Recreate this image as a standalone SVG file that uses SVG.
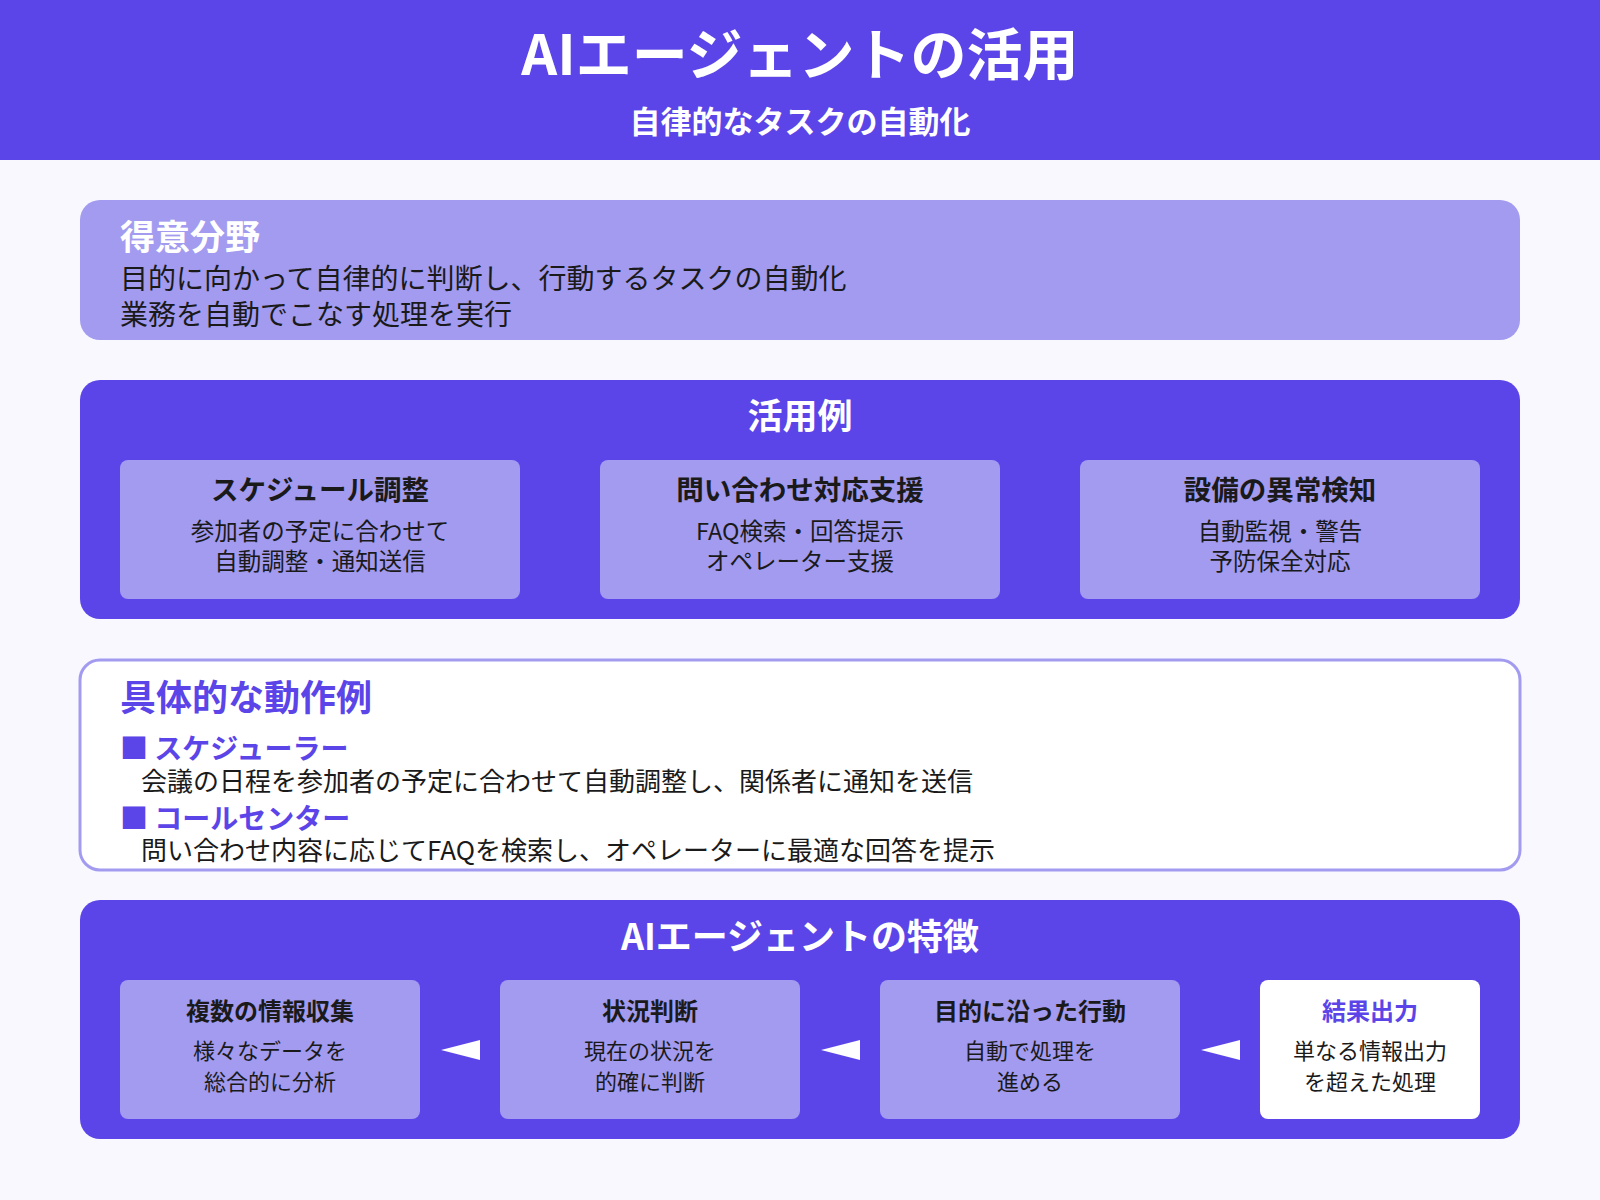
<svg xmlns="http://www.w3.org/2000/svg" width="1600" height="1200" viewBox="0 0 1600 1200">
<style>
text{font-family:"Noto Sans CJK JP","Noto Sans",sans-serif;}
.w{fill:#fff}.k{fill:#1a1a1a}.p{fill:#5b45e8}
.b{font-weight:700}
.sub{fill:#a29bf0;}
.arr{fill:#fff}
</style>
<rect width="1600" height="1200" fill="#f8f8fe"/>
<g id="header">
<rect width="1600" height="160" fill="#5b45e8"/>
<text x="800" y="75" text-anchor="middle" class="w b" font-size="56">AIエージェントの活用</text>
<text x="800" y="133" text-anchor="middle" class="w b" font-size="31">自律的なタスクの自動化</text>
</g>
<g id="strengths">
<rect x="80" y="200" width="1440" height="140" rx="20" fill="#a29bf0"/>
<text x="120" y="250" class="w b" font-size="35">得意分野</text>
<text x="120" y="289" class="k" font-size="28">目的に向かって自律的に判断し、行動するタスクの自動化</text>
<text x="120" y="325" class="k" font-size="28">業務を自動でこなす処理を実行</text>
</g>
<g id="usecases">
<rect x="80" y="380" width="1440" height="239" rx="20" fill="#5b45e8"/>
<text x="800" y="429" text-anchor="middle" class="w b" font-size="35">活用例</text>
<g id="uc1"><rect x="120" y="460" width="400" height="139" rx="8" class="sub"/>
<text x="320" y="500" text-anchor="middle" class="k b" font-size="27.5">スケジュール調整</text>
<text x="320" y="540" text-anchor="middle" class="k" font-size="23.5">参加者の予定に合わせて</text>
<text x="320" y="570" text-anchor="middle" class="k" font-size="23.5">自動調整・通知送信</text></g>
<g id="uc2"><rect x="600" y="460" width="400" height="139" rx="8" class="sub"/>
<text x="800" y="500" text-anchor="middle" class="k b" font-size="27.5">問い合わせ対応支援</text>
<text x="800" y="540" text-anchor="middle" class="k" font-size="23.5">FAQ検索・回答提示</text>
<text x="800" y="570" text-anchor="middle" class="k" font-size="23.5">オペレーター支援</text></g>
<g id="uc3"><rect x="1080" y="460" width="400" height="139" rx="8" class="sub"/>
<text x="1280" y="500" text-anchor="middle" class="k b" font-size="27.5">設備の異常検知</text>
<text x="1280" y="540" text-anchor="middle" class="k" font-size="23.5">自動監視・警告</text>
<text x="1280" y="570" text-anchor="middle" class="k" font-size="23.5">予防保全対応</text></g>
</g>
<g id="examples">
<rect x="80" y="660" width="1440" height="210" rx="20" fill="#fff" stroke="#a29bf0" stroke-width="3"/>
<text x="120" y="711" class="p b" font-size="36">具体的な動作例</text>
<text x="120" y="759" class="p b" font-size="28">■ スケジューラー</text>
<text x="141" y="791" class="k" font-size="26">会議の日程を参加者の予定に合わせて自動調整し、関係者に通知を送信</text>
<text x="120" y="829" class="p b" font-size="28">■ コールセンター</text>
<text x="141" y="860" class="k" font-size="26">問い合わせ内容に応じてFAQを検索し、オペレーターに最適な回答を提示</text>
</g>
<g id="features">
<rect x="80" y="900" width="1440" height="239" rx="20" fill="#5b45e8"/>
<text x="800" y="950" text-anchor="middle" class="w b" font-size="36">AIエージェントの特徴</text>
<g id="f1"><rect x="120" y="980" width="300" height="139" rx="8" class="sub"/>
<text x="270" y="1020" text-anchor="middle" class="k b" font-size="24">複数の情報収集</text>
<text x="270" y="1059" text-anchor="middle" class="k" font-size="22">様々なデータを</text>
<text x="270" y="1090" text-anchor="middle" class="k" font-size="22">総合的に分析</text></g>
<g id="f2"><rect x="500" y="980" width="300" height="139" rx="8" class="sub"/>
<text x="650" y="1020" text-anchor="middle" class="k b" font-size="24">状況判断</text>
<text x="650" y="1059" text-anchor="middle" class="k" font-size="22">現在の状況を</text>
<text x="650" y="1090" text-anchor="middle" class="k" font-size="22">的確に判断</text></g>
<g id="f3"><rect x="880" y="980" width="300" height="139" rx="8" class="sub"/>
<text x="1030" y="1020" text-anchor="middle" class="k b" font-size="24">目的に沿った行動</text>
<text x="1030" y="1059" text-anchor="middle" class="k" font-size="22">自動で処理を</text>
<text x="1030" y="1090" text-anchor="middle" class="k" font-size="22">進める</text></g>
<g id="f4"><rect x="1260" y="980" width="220" height="139" rx="8" fill="#fff"/>
<text x="1370" y="1020" text-anchor="middle" class="p b" font-size="24">結果出力</text>
<text x="1370" y="1059" text-anchor="middle" class="k" font-size="22">単なる情報出力</text>
<text x="1370" y="1090" text-anchor="middle" class="k" font-size="22">を超えた処理</text></g>
</g>
<g id="connectors">
<polygon class="arr" points="441,1050 480,1040 480,1060"/>
<polygon class="arr" points="821,1050 860,1040 860,1060"/>
<polygon class="arr" points="1201,1050 1240,1040 1240,1060"/>
</g>
</svg>
